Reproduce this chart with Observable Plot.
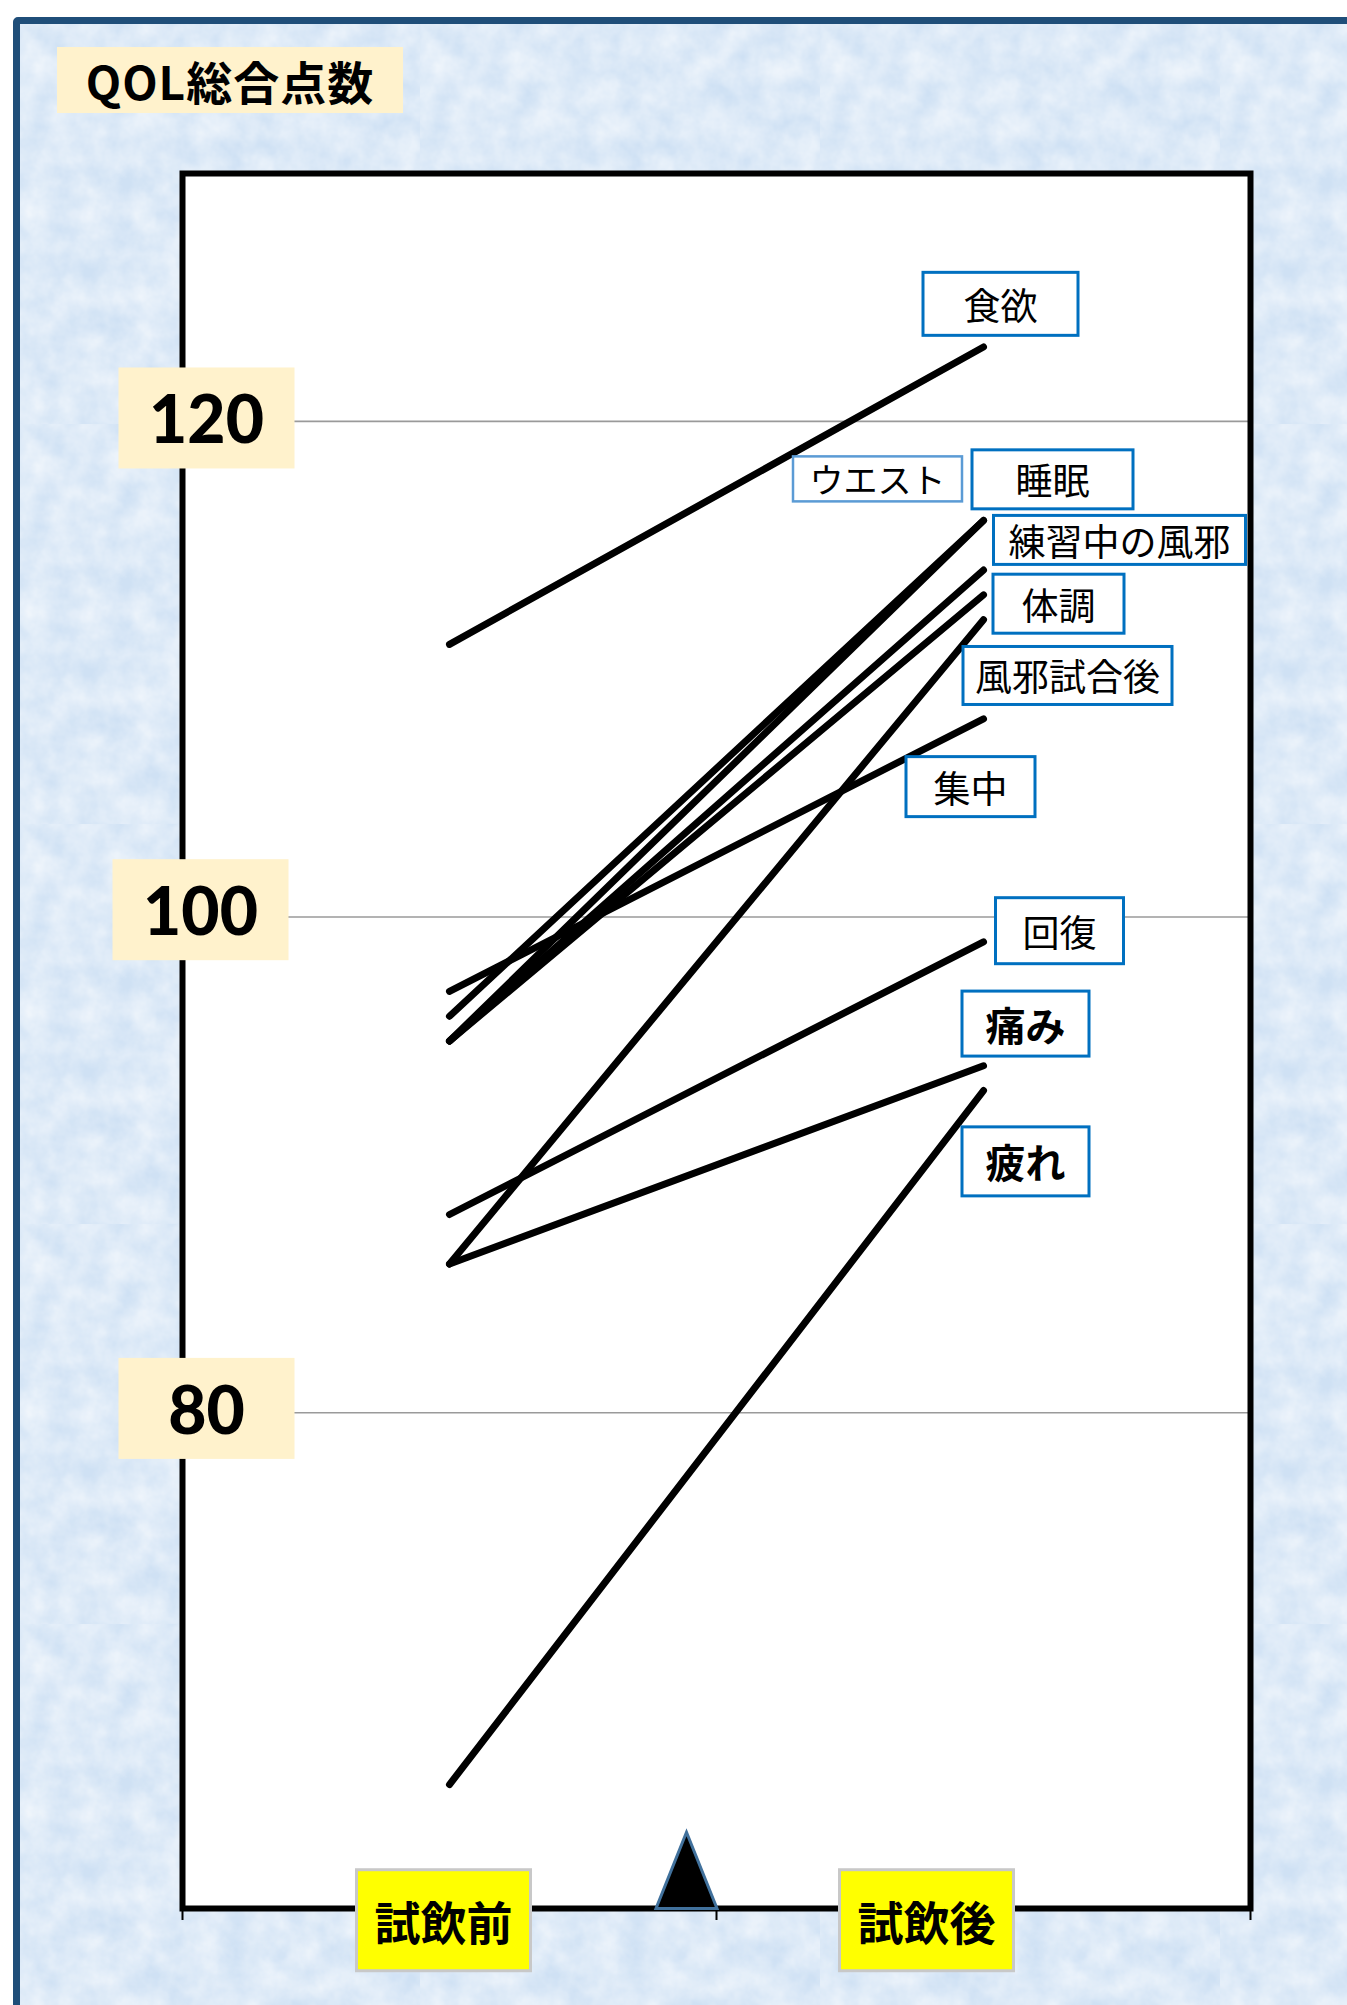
<!DOCTYPE html>
<html>
<head>
<meta charset="utf-8">
<script src="https://cdn.jsdelivr.net/npm/d3@7"></script>
<script src="https://cdn.jsdelivr.net/npm/@observablehq/plot@0.6"></script>
<style>
  html, body { margin: 0; padding: 0; background: #ffffff; overflow: hidden; }
  body { width: 1347px; height: 2005px; position: relative; font-family: "Noto Sans CJK JP", sans-serif; }
  #panel {
    position: absolute; left: 13px; top: 17px; width: 1380px; height: 2040px;
    border: 7px solid #1f4e79; border-radius: 5px;
    background-color: #cfe1f4;
    background-image: url("data:image/svg+xml;utf8,<svg xmlns='http://www.w3.org/2000/svg' width='400' height='400'><filter id='n'><feTurbulence type='fractalNoise' baseFrequency='0.035' numOctaves='4' seed='3'/><feColorMatrix values='0 0 0 0 1  0 0 0 0 1  0 0 0 0 1  0.9 0 0 0 -0.15'/></filter><rect width='100%' height='100%' filter='url(%23n)'/></svg>");
  }
  #title {
    position: absolute; left: 57px; top: 47px; width: 346px; height: 66px;
    background: #fff2cc; color: #000;
    font: 700 46px "Noto Sans CJK JP", sans-serif; line-height: 66px; text-align: center;
    letter-spacing: 1px;
  }
  #chart { position: absolute; left: 0; top: 0; }
</style>
</head>
<body>
<div id="panel"></div>
<div id="chart"></div>
<div id="title">QOL総合点数</div>
<script>
// ---------------- data ----------------
const categories = ["試飲前", "試飲後"];
const items  = ["食欲", "ウエスト", "睡眠", "練習中の風邪", "体調", "風邪試合後", "集中", "回復", "痛み", "疲れ"];
const before = [111, 96, 95, 95, 95, 86, 97, 88, 86, 65];
const after  = [123, 116, 116, 114, 113, 112, 108, 99, 94, 93];
const yTicks = [80, 100, 120];

// ---------------- styles (offsets in px, box sizes) ----------------
const labelStyle = [
  {dx: 17,   dy: -39, w: 155, h: 63, size: 37, weight: 400, stroke: "#0070c0", sw: 3},
  {dx: -106, dy: -38, w: 169, h: 45, size: 34, weight: 400, stroke: "#5b9bd5", sw: 2.5},
  {dx: 69,   dy: -37, w: 161, h: 59, size: 37, weight: 400, stroke: "#0070c0", sw: 3},
  {dx: 136,  dy: -26, w: 252, h: 49, size: 37, weight: 400, stroke: "#0070c0", sw: 3},
  {dx: 75,   dy: 13,  w: 131, h: 59, size: 37, weight: 400, stroke: "#0070c0", sw: 3},
  {dx: 84,   dy: 60,  w: 209, h: 58, size: 37, weight: 400, stroke: "#0070c0", sw: 3},
  {dx: -13,  dy: 72,  w: 129, h: 60, size: 37, weight: 400, stroke: "#0070c0", sw: 3},
  {dx: 76,   dy: -7,  w: 128, h: 66, size: 37, weight: 400, stroke: "#0070c0", sw: 3},
  {dx: 42,   dy: -38, w: 127, h: 65, size: 40, weight: 700, stroke: "#0070c0", sw: 3},
  {dx: 42,   dy: 75,  w: 127, h: 69, size: 40, weight: 700, stroke: "#0070c0", sw: 3}
];
const yTickStyle = [
  {dx: 24, dy: 0},
  {dx: 18, dy: -3},
  {dx: 24, dy: 1}
];
const xLabelDx = [-6, -57];

// ---------------- derived tables ----------------
const xPos = (cat) => categories.indexOf(cat) + 0.5;
const series = items.map((item, i) => ({item, before: before[i], after: after[i]}));
const long = series.flatMap(s => [
  {item: s.item, phase: categories[0], value: s.before},
  {item: s.item, phase: categories[1], value: s.after}
]);

// tall triangle symbol with its base on the anchor point
const tallTriangle = {
  draw(context, size) {
    const r = Math.sqrt(size / Math.PI);
    context.moveTo(-r, 0);
    context.lineTo(r, 0);
    context.lineTo(0, -r * 2.5);
    context.closePath();
  }
};

const marks = [
  Plot.frame({fill: "white"}),
  Plot.ruleY(yTicks, {stroke: "#9a9a9a", strokeWidth: 1.6}),
  Plot.line(long, {x: d => xPos(d.phase), y: "value", z: "item", stroke: "black",
    strokeWidth: 7, strokeLinecap: "round", strokeLinejoin: "round"}),
  Plot.frame({stroke: "black", strokeWidth: 6}),
  Plot.axisX({ticks: [0, 1, 2], tickSize: 12, tickFormat: () => "", stroke: "black", strokeWidth: 2}),
  Plot.dot([1], {x: d => d, frameAnchor: "bottom", symbol: tallTriangle, r: 30.5, dx: -30,
    fill: "black", stroke: "#41719c", strokeWidth: 3})
];

// y tick labels (one mark per tick so each gets its own offset)
yTicks.forEach((t, i) => {
  marks.push(Plot.text([t], {y: d => d, frameAnchor: "left", text: d => String(d),
    dx: yTickStyle[i].dx, dy: yTickStyle[i].dy, textAnchor: "middle", lineAnchor: "middle",
    fontFamily: "Lato, 'Open Sans', sans-serif", fontWeight: 900, fontSize: 66, fill: "black",
    ariaDescription: "ybox"}));
});
// x category labels
categories.forEach((c, i) => {
  marks.push(Plot.text([c], {x: d => xPos(d), frameAnchor: "bottom", text: d => d,
    dx: xLabelDx[i], dy: 17, textAnchor: "middle", lineAnchor: "middle",
    fontFamily: "'Noto Sans CJK JP', sans-serif", fontWeight: 700, fontSize: 46, fill: "black",
    ariaDescription: "xbox"}));
});
// series annotations
series.forEach((s, i) => {
  const st = labelStyle[i];
  marks.push(Plot.text([s], {x: () => xPos(categories[1]), y: "after", text: "item",
    dx: st.dx, dy: st.dy, textAnchor: "middle", lineAnchor: "middle",
    fontFamily: "'Noto Sans CJK JP', sans-serif", fontWeight: st.weight, fontSize: st.size, fill: "black",
    ariaDescription: "lbox" + i}));
});

const chart = Plot.plot({
  width: 1347,
  height: 2005,
  marginLeft: 182,
  marginRight: 97,
  marginTop: 173,
  marginBottom: 97,
  style: {background: "transparent", overflow: "visible", maxWidth: "none"},
  x: {type: "linear", domain: [0, 2], axis: null},
  y: {type: "linear", domain: [60, 130], axis: null},
  marks
});
document.getElementById("chart").append(chart);

// ---------------- boxes behind texts ----------------
const NS = "http://www.w3.org/2000/svg";
function boxify(group, spec) {
  if (!group) return;
  group.querySelectorAll("text").forEach(t => {
    const b = t.getBBox();
    const cx = b.x + b.width / 2, cy = b.y + b.height / 2;
    const r = document.createElementNS(NS, "rect");
    r.setAttribute("x", cx - spec.w / 2);
    r.setAttribute("y", cy - spec.h / 2);
    r.setAttribute("width", spec.w);
    r.setAttribute("height", spec.h);
    r.setAttribute("fill", spec.fill);
    if (spec.stroke) { r.setAttribute("stroke", spec.stroke); r.setAttribute("stroke-width", spec.sw); }
    const tr = t.getAttribute("transform");
    if (tr) r.setAttribute("transform", tr);
    t.parentNode.insertBefore(r, t);
  });
}
const groups = Array.from(chart.querySelectorAll("g[aria-label='text']"));
const byDesc = (d) => groups.filter(g => g.getAttribute("aria-description") === d);
let yGroups = byDesc("ybox"), xGroups = byDesc("xbox");
if (yGroups.length === 0) { yGroups = groups.slice(0, 3); xGroups = groups.slice(3, 5); }
yGroups.forEach(g => boxify(g, {w: 176, h: 101, fill: "#fff2cc"}));
xGroups.forEach(g => boxify(g, {w: 174, h: 101, fill: "#ffff00", stroke: "#c8c8c8", sw: 3}));
series.forEach((s, i) => {
  let g = byDesc("lbox" + i)[0];
  if (!g) g = groups[5 + i];
  const st = labelStyle[i];
  boxify(g, {w: st.w, h: st.h, fill: "white", stroke: st.stroke, sw: st.sw});
});
</script>
</body>
</html>
